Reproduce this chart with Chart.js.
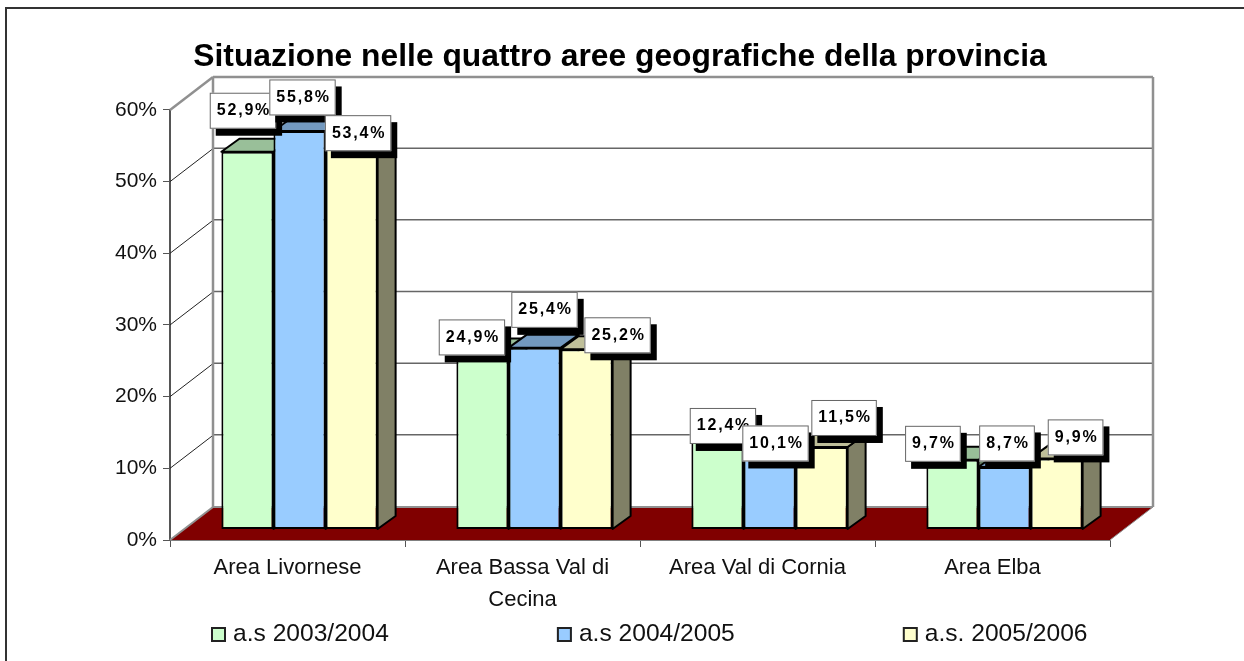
<!DOCTYPE html>
<html><head><meta charset="utf-8">
<style>html,body{margin:0;padding:0;background:#fff}canvas{display:block}</style>
<script src="https://cdn.jsdelivr.net/npm/chart.js@4"></script>
</head><body><canvas id="c" width="1244" height="661"></canvas>
<script>
const titleText = "Situazione nelle quattro aree geografiche della provincia";
const categories = ["Area Livornese", ["Area Bassa Val di", "Cecina"], "Area Val di Cornia", "Area Elba"];
const seriesNames = ["a.s 2003/2004", "a.s 2004/2005", "a.s. 2005/2006"];
const values2003 = [52.9, 24.9, 12.4, 9.7];
const values2004 = [55.8, 25.4, 10.1, 8.7];
const values2005 = [53.4, 25.2, 11.5, 9.9];
const seriesColors = [[204,255,204],[153,204,255],[255,255,204]];
// label box offsets from each bar's top centre, one row per series
const labelDx = [[-4.5,-10.5,5.5,-19.5],[3,10,6,2.5],[6.5,31,22.5,19]];
const labelDy = [[-41,-14,-14.6,-16],[-33.6,-38,-13.5,-23.5],[-15,-14,-29,-21]];

const FONT = '"Liberation Sans", Arial, sans-serif';
const WALL = {dx:43, dy:-33};      // depth of the floor/back wall
const BAR_SHIFT = {dx:12, dy:-11}; // bars stand a little behind the front plane
const BAR_DEPTH = {dx:18, dy:-13};
const rgb = (c,k=1)=>`rgb(${c.map(v=>Math.round(v*k)).join(',')})`;
const poly = (ctx,pts,fill,stroke,lw)=>{
  ctx.beginPath(); pts.forEach((p,i)=>i?ctx.lineTo(p[0],p[1]):ctx.moveTo(p[0],p[1])); ctx.closePath();
  if(fill){ctx.fillStyle=fill;ctx.fill();}
  if(stroke){ctx.strokeStyle=stroke;ctx.lineWidth=lw;ctx.stroke();}
};
const seg = (ctx,x0,y0,x1,y1,color,lw)=>{ctx.strokeStyle=color;ctx.lineWidth=lw;ctx.beginPath();ctx.moveTo(x0,y0);ctx.lineTo(x1,y1);ctx.stroke();};

const frame3d = {
  id:'frame3d',
  afterLayout(chart){
    chart.titleBlock.left-=2; chart.titleBlock.right-=2;
  },
  beforeDraw(chart){
    const ctx=chart.ctx; ctx.save();
    seg(ctx,6,8,1244,8,'#333',2);
    seg(ctx,6,7,6,661,'#333',2);
    ctx.restore();
  },
  beforeDatasetsDraw(chart){
    const ctx=chart.ctx, {left,right}=chart.chartArea, y=chart.scales.y;
    const y0=y.getPixelForValue(0), yTop=y.getPixelForValue(60);
    ctx.save();
    // horizontal grid on the back wall, oblique on the side wall
    y.ticks.forEach(t=>{
      const p=y.getPixelForValue(t.value);
      if(t.value>0 && t.value<60){
        seg(ctx,left,p,left+WALL.dx,p+WALL.dy,'#222',1);
        seg(ctx,left+WALL.dx,p+WALL.dy-0.5,right+WALL.dx,p+WALL.dy-0.5,'#666',1.5);
      }
    });
    // floor
    poly(ctx,[[left,y0],[right,y0],[right+WALL.dx,y0+WALL.dy],[left+WALL.dx,y0+WALL.dy]],'#800000');
    // wall outlines
    const g='#909090';
    seg(ctx,left,yTop,left+WALL.dx,yTop+WALL.dy,g,2.5);
    seg(ctx,left+WALL.dx,yTop+WALL.dy,right+WALL.dx,yTop+WALL.dy,g,2.5);
    seg(ctx,left+WALL.dx,yTop+WALL.dy,left+WALL.dx,y0+WALL.dy,g,2.5);
    seg(ctx,right+WALL.dx,yTop+WALL.dy,right+WALL.dx,y0+WALL.dy,g,2.5);
    seg(ctx,left,y0,left+WALL.dx,y0+WALL.dy,g,2);
    seg(ctx,left+WALL.dx,y0+WALL.dy,right+WALL.dx,y0+WALL.dy,g,2);
    seg(ctx,right,y0,right+WALL.dx,y0+WALL.dy,g,1);
    // top and side faces of every bar, read from the bar elements
    ctx.lineJoin='round';
    chart.data.datasets.forEach((ds,i)=>{
      chart.getDatasetMeta(i).data.forEach(el=>{
        const x0=el.x-el.width/2+BAR_SHIFT.dx, x1=el.x+el.width/2+BAR_SHIFT.dx;
        const t=el.y+BAR_SHIFT.dy, b=el.base+BAR_SHIFT.dy, d=BAR_DEPTH;
        const c=seriesColors[i];
        poly(ctx,[[x1,t],[x1+d.dx,t+d.dy],[x1+d.dx,b+d.dy],[x1,b]],rgb(c,0.5),'#000',2);
        poly(ctx,[[x0,t],[x0+d.dx,t+d.dy],[x1+d.dx,t+d.dy],[x1,t]],rgb(c,0.75),'#000',2);
      });
    });
    ctx.restore();
    ctx.save();
    ctx.translate(BAR_SHIFT.dx,BAR_SHIFT.dy);
  },
  afterDatasetsDraw(chart){
    const ctx=chart.ctx;
    ctx.restore();
    ctx.save();
    // value labels
    ctx.font='bold 16px '+FONT;
    ctx.letterSpacing='1.8px';
    ctx.textAlign='left'; ctx.textBaseline='middle';
    const H=36;
    chart.data.datasets.forEach((ds,i)=>{
      chart.getDatasetMeta(i).data.forEach((el,j)=>{
        const txt=ds.data[j].toFixed(1).replace('.',',')+'%';
        const w=ctx.measureText(txt).width+12;
        const cx=el.x+BAR_SHIFT.dx+labelDx[i][j], cy=el.y+BAR_SHIFT.dy+labelDy[i][j];
        const x=cx-w/2, y=cy-H/2;
        ctx.fillStyle='#000'; ctx.fillRect(x+6,y+7,w,H);
        ctx.fillStyle='#fff'; ctx.fillRect(x,y,w,H);
        ctx.strokeStyle='#666'; ctx.lineWidth=1; ctx.strokeRect(x+.5,y+.5,w-1,H-1);
        ctx.fillStyle='#000'; ctx.fillText(txt,x+7,cy);
      });
    });
    ctx.restore();
  },
  afterDraw(chart){
    // legend row
    const ctx=chart.ctx; ctx.save();
    ctx.font='24.6px '+FONT; ctx.textBaseline='middle'; ctx.textAlign='left';
    let x=211; const yc=634.5, box=15, gap=168;
    chart.data.datasets.forEach((ds,i)=>{
      ctx.fillStyle=ds.backgroundColor; ctx.fillRect(x,yc-box/2,box,box);
      ctx.strokeStyle='#222'; ctx.lineWidth=2; ctx.strokeRect(x+1,yc-box/2+1,box-2,box-2);
      ctx.fillStyle='#111'; ctx.fillText(ds.label,x+box+7,yc);
      x+=box+7+ctx.measureText(ds.label).width+gap;
    });
    ctx.restore();
  }
};

new Chart(document.getElementById('c'),{
  type:'bar',
  data:{labels:categories,datasets:[values2003,values2004,values2005].map((v,i)=>({
    label:seriesNames[i],data:v,yAxisID:'yBars',clip:false,
    backgroundColor:rgb(seriesColors[i]),borderColor:'#000',borderWidth:2,borderSkipped:false,
    categoryPercentage:0.6648,barPercentage:1
  }))},
  options:{
    responsive:false,animation:false,
    layout:{padding:0},
    plugins:{
      legend:{display:false},tooltip:{enabled:false},
      title:{display:true,text:titleText,color:'#000',font:{family:FONT,size:31.8,weight:'bold',lineHeight:1.2},padding:{top:38,bottom:33.8}}
    },
    scales:{
      x:{
        afterFit:s=>{s.height=121;},
        grid:{drawOnChartArea:false,drawTicks:true,tickLength:7,color:'#555'},
        border:{color:'#808080',width:2},
        ticks:{color:'#111',font:{family:FONT,size:22,lineHeight:1.45},padding:5,autoSkip:false,maxRotation:0}
      },
      y:{
        position:'left',min:0,max:60,
        afterFit:s=>{s.width=170;},
        grid:{drawOnChartArea:false,drawTicks:true,tickLength:7,color:'#555'},
        border:{color:'#555',width:2},
        ticks:{stepSize:10,color:'#111',font:{family:FONT,size:21},padding:6,callback:v=>v+'%'}
      },
      yBars:{
        position:'right',min:0,max:60.3,
        afterFit:s=>{s.width=134;},
        grid:{display:false},border:{display:false},ticks:{display:false}
      }
    }
  },
  plugins:[frame3d]
});
</script></body></html>
